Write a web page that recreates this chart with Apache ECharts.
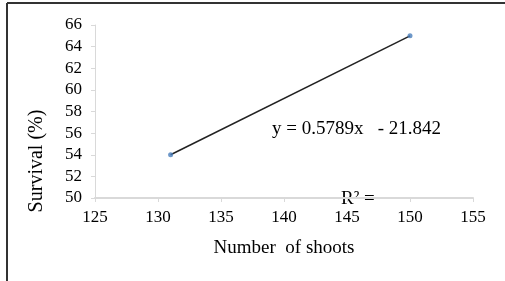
<!DOCTYPE html>
<html>
<head>
<meta charset="utf-8">
<script src="https://cdn.jsdelivr.net/npm/echarts@6/dist/echarts.min.js"></script>
<style>
    html, body { margin: 0; padding: 0; background: #fff; }
    #chart { width: 505px; height: 281px; }
</style>
</head>
<body>
<div id="chart"></div>
<script>
    // observed points
    var shoots = [131, 150];
    var survival = [54, 65];
    // linear trendline end points (y = 0.5789x - 21.842)
    var trendX = [131, 150];
    var trendY = [54.0, 65.0];

    var xTicks = [125, 130, 135, 140, 145, 150, 155];
    var yTicks = [50, 52, 54, 56, 58, 60, 62, 64, 66];

    var serif = '"Liberation Serif", "Times New Roman", serif';
    var axisGray = '#d9d9d9';

    var chart = echarts.init(document.getElementById('chart'));
    var option = {
        animation: false,
        textStyle: { fontFamily: serif },
        grid: { left: 95, right: 32, top: 25, bottom: 83 },
        xAxis: {
            type: 'value',
            min: xTicks[0],
            max: xTicks[xTicks.length - 1],
            interval: 5,
            name: 'Number  of shoots',
            nameLocation: 'middle',
            nameGap: 41,
            nameTextStyle: { fontFamily: serif, fontSize: 19, color: '#000' },
            axisLine: { lineStyle: { color: axisGray, width: 2 } },
            axisTick: { show: true, length: 4, lineStyle: { color: axisGray } },
            axisLabel: { fontFamily: serif, fontSize: 17, color: '#000', margin: 11 },
            splitLine: { show: false }
        },
        yAxis: {
            type: 'value',
            min: yTicks[0],
            max: yTicks[yTicks.length - 1],
            interval: 2,
            axisLine: { show: true, lineStyle: { color: axisGray, width: 1 } },
            axisTick: { show: true, length: 4, lineStyle: { color: axisGray } },
            axisLabel: { fontFamily: serif, fontSize: 17, color: '#000', margin: 13 },
            splitLine: { show: false }
        },
        series: [
            {
                type: 'line',
                data: trendX.map(function (x, i) { return [x, trendY[i]]; }),
                showSymbol: false,
                lineStyle: { color: '#222', width: 1.5 },
                z: 2
            },
            {
                type: 'scatter',
                data: shoots.map(function (x, i) { return [x, survival[i]]; }),
                symbolSize: 5,
                itemStyle: { color: '#4a7ebb' },
                z: 3
            }
        ],
        graphic: [
            { type: 'line', shape: { x1: 7, y1: 3, x2: 505, y2: 3 }, style: { stroke: '#333', lineWidth: 2 } },
            { type: 'line', shape: { x1: 7, y1: 3, x2: 7, y2: 281 }, style: { stroke: '#333', lineWidth: 2 } },
            {
                type: 'text', x: 37, y: 161, rotation: Math.PI / 2,
                style: { text: 'Survival (%)', font: '20px ' + serif, fill: '#000', align: 'center', verticalAlign: 'middle' }
            },
            {
                type: 'text', left: 272, top: 120,
                style: { text: 'y = 0.5789x   - 21.842', font: '19px ' + serif, fill: '#000' }
            },
            {
                type: 'text', left: 341, top: 190,
                style: { text: 'R² =', font: '19px ' + serif, fill: '#000' }
            }
        ]
    };
    chart.setOption(option);
</script>
</body>
</html>
